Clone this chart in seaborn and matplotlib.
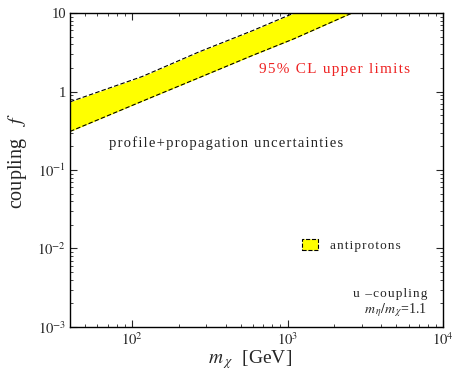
import numpy as np
import pandas as pd
import matplotlib
matplotlib.use("Agg")
import matplotlib.pyplot as plt
import seaborn as sns
from matplotlib.patches import Patch
from matplotlib.ticker import LogLocator, NullFormatter

# band edges (m_chi in GeV, coupling f)
mass = [40, 116, 270, 600, 1100, 2600]
f_upper = [0.74, 1.55, 3.2, 6.0, 10.0, 21.0]
f_lower = [0.31, 0.75, 1.5, 2.9, 4.7, 10.0]

df = pd.DataFrame({"mass": mass, "upper": f_upper, "lower": f_lower})


def spaced(s):
    # mimic the loose letter spacing of the original labels
    return "\u200a".join(s)


sns.set_theme(style="ticks")
plt.rcParams["font.family"] = ["Liberation Serif", "DejaVu Serif"]
plt.rcParams["mathtext.fontset"] = "stix"

fig = plt.figure(figsize=(4.55, 3.72), dpi=100)
ax = fig.add_axes([0.154, 0.121, 0.82, 0.844])

ax.fill_between(df["mass"], df["lower"], df["upper"], color="#ffff00", lw=0)
sns.lineplot(data=df, x="mass", y="upper", ax=ax, color="black", lw=0.8, linestyle=(0, (4, 2)))
sns.lineplot(data=df, x="mass", y="lower", ax=ax, color="black", lw=0.8, linestyle=(0, (4, 2)))

ax.set_xscale("log")
ax.set_yscale("log")
ax.set_xlim(40, 1e4)
ax.set_ylim(1e-3, 10)

ax.xaxis.set_minor_locator(LogLocator(base=10, subs=np.arange(2, 10), numticks=20))
ax.yaxis.set_minor_locator(LogLocator(base=10, subs=np.arange(2, 10), numticks=20))
ax.xaxis.set_minor_formatter(NullFormatter())
ax.yaxis.set_minor_formatter(NullFormatter())
ax.set_yticks([1e-3, 1e-2, 1e-1, 1, 10])
ax.set_yticklabels([r"$10^{-3}$", r"$10^{-2}$", r"$10^{-1}$", "1", "10"])
ax.set_xticks([1e2, 1e3, 1e4])
ax.set_xticklabels([r"$10^{2}$", r"$10^{3}$", r"$10^{4}$"])

ax.tick_params(which="both", direction="in", top=True, right=True, labelsize=10.5, pad=3)
ax.tick_params(which="major", length=5, width=0.8)
ax.tick_params(which="minor", length=2.5, width=0.6)
for s in ax.spines.values():
    s.set_linewidth(1.0)
    s.set_color("black")

ax.set_xlabel(r"$m_{\;\chi}$  [GeV]", fontsize=14)
ax.set_ylabel(r"coupling   $f$", fontsize=14.5)
ax.xaxis.set_label_coords(0.483, -0.068)
ax.yaxis.set_label_coords(-0.11, 0.53)

ax.text(2000, 1.9, spaced("95% CL upper limits"), color="#ee2222", fontsize=11,
        ha="center", va="center")
ax.text(400, 0.22, spaced("profile+propagation uncertainties"), color="#222222",
        fontsize=10.5, ha="center", va="center")
ax.text(7900, 0.0026, spaced("u \u2013coupling"), fontsize=9.5, ha="right", va="center")
ax.text(7900, 0.00165, r"$m_{\,\eta}/m_{\,\chi}$=1.1", fontsize=10, ha="right", va="center")

handle = Patch(facecolor="#ffff00", edgecolor="black", linestyle="--", linewidth=0.8)
ax.legend([handle], [spaced("antiprotons")], loc="center left", bbox_to_anchor=(0.59, 0.26),
          frameon=False, fontsize=9.5, handlelength=1.2, handleheight=1.0, handletextpad=0.9)

fig.savefig("out.png", dpi=100)
